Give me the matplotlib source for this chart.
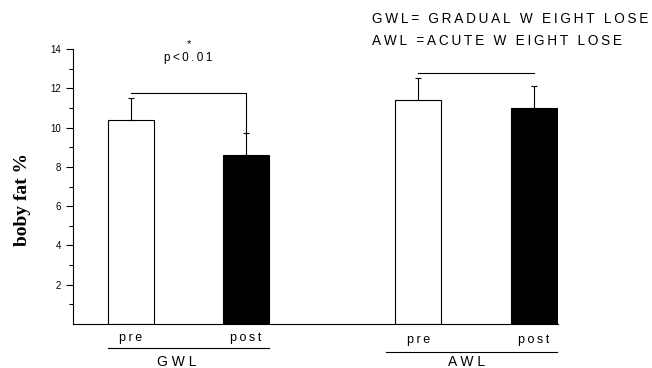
import matplotlib
matplotlib.use('Agg')
import matplotlib.pyplot as plt
import numpy as np

groups = ['GWL', 'AWL']
phases = ['pre', 'post']
means = [10.4, 8.6, 11.4, 11.0]
errs = [1.1, 1.1, 1.1, 1.1]
positions = [0.0, 1.0, 2.5, 3.5]
group_label_x = [0.40, 2.92]
colors = ['white', 'black', 'white', 'black']
legend_lines = ['GWL= GRADUAL W EIGHT LOSE', 'AWL =ACUTE W EIGHT LOSE']

sans = 'Liberation Sans'


def track(s, sep='\u2009'):
    # fake letter spacing, the original uses wide tracking
    return sep.join(s)


fig = plt.figure(figsize=(6.52, 3.68), dpi=100)
ax = fig.add_axes([73 / 652, 44 / 368, 485 / 652, 275 / 368])

ax.bar(positions, means, width=0.4, color=colors, edgecolor='black', linewidth=0.8)
ax.errorbar(positions, means, yerr=[np.zeros(len(errs)), errs], fmt='none',
            ecolor='black', elinewidth=0.8, capsize=2.5, capthick=0.8)

ax.set_xlim(-0.504, 3.713)
ax.set_ylim(0, 14)
ax.spines['top'].set_visible(False)
ax.spines['right'].set_visible(False)
ax.spines['left'].set_linewidth(0.8)
ax.spines['bottom'].set_linewidth(0.8)
ax.set_xticks([])
ax.set_yticks(range(2, 15, 2))
ax.set_yticks(range(1, 14, 2), minor=True)
ax.tick_params(axis='y', which='major', length=5, width=0.8, labelsize=7, direction='out')
ax.tick_params(axis='y', which='minor', length=3, width=0.8, direction='out')
for lab in ax.get_yticklabels():
    lab.set_fontfamily(sans)

fig.text(23 / 652, 1 - 200 / 368, 'boby fat %', rotation=90, ha='center', va='center',
         fontfamily='Liberation Serif', fontweight='bold', fontsize=14)

# significance brackets
ax.plot([positions[0], positions[1], positions[1]], [11.74, 11.74, means[1] + errs[1]],
        color='black', lw=0.8, clip_on=False)
ax.plot([positions[2], positions[3]], [12.76, 12.76], color='black', lw=0.8, clip_on=False)
ax.text(0.5, 14.25, '*', ha='center', va='center', fontsize=8, fontfamily=sans)
ax.text(0.5, 13.52, track('p<0.01'), ha='center', va='center', fontsize=8.5, fontfamily=sans)

# group labels below the axis
label_y = [-0.71, -0.81]
line_y = [-1.22, -1.42]
for g, name in enumerate(groups):
    p0, p1 = positions[2 * g], positions[2 * g + 1]
    for k, ph in enumerate(phases):
        ax.text(positions[2 * g + k], label_y[g], track(ph), ha='center', va='center',
                fontsize=9, fontfamily=sans, clip_on=False)
    half = 0.2 if g == 0 else 0.28
    ax.plot([p0 - half, p1 + 0.2], [line_y[g], line_y[g]], color='black', lw=0.8, clip_on=False)
    ax.text(group_label_x[g], -1.93, track(name, ' '), ha='center', va='center', fontsize=10,
            fontfamily=sans, clip_on=False)

for i, line in enumerate(legend_lines):
    ax.text(2.096, 15.52 - 1.12 * i, track(line), ha='left', va='center', fontsize=9.8,
            fontfamily=sans, clip_on=False)

fig.savefig('out.png', dpi=100)
